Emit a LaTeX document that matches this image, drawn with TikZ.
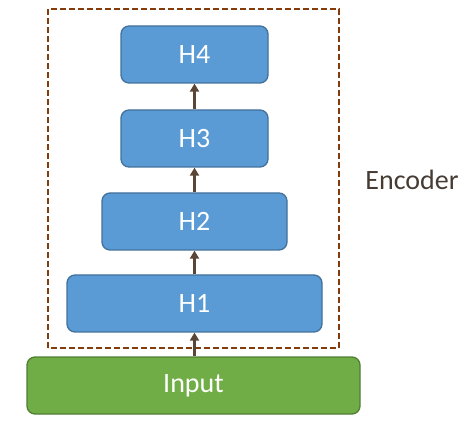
\documentclass[tikz,border=0pt]{standalone}
\usepackage{fontspec}
\setmainfont{Carlito}
\usetikzlibrary{arrows.meta}
\definecolor{layerfill}{HTML}{5B9BD5}
\definecolor{layerline}{HTML}{41719C}
\definecolor{inputfill}{HTML}{70AD47}
\definecolor{inputline}{HTML}{507E32}
\definecolor{arrowcol}{HTML}{5A4636}
\definecolor{framecol}{HTML}{843C0C}
\definecolor{enctext}{HTML}{463C34}
\begin{document}
\begin{tikzpicture}[x=1pt,y=1pt]
  \tikzstyle{layer}=[rectangle,rounded corners=8pt,draw=layerline,fill=layerfill,line width=1.3pt,minimum height=57pt,text=white,font=\fontsize{28}{32}\selectfont]
  \tikzstyle{inbox}=[layer,draw=inputline,fill=inputfill]
  \tikzstyle{link}=[draw=arrowcol,line width=2.4pt,-{Triangle[length=8pt,width=9pt]}]
  \useasboundingbox (0,0) rectangle (469,429);
  \draw [framecol,dashed,line width=1.3pt,dash pattern=on 6pt off 3pt] (48,81) rectangle (339,420);
  \node [inbox,minimum width=333pt] (input) at (193.5,43.5) {Input};
  \node [layer,minimum width=255pt] (h1) at (194.5,125.5) {H1};
  \node [layer,minimum width=185pt] (h2) at (194.5,207.5) {H2};
  \node [layer,minimum width=147pt] (h3) at (194.5,290.5) {H3};
  \node [layer,minimum width=147pt] (h4) at (194.5,374.5) {H4};
  \draw [link] (input.north -| h1.south) -- (h1.south);
  \draw [link] (h1) -- (h2);
  \draw [link] (h2) -- (h3);
  \draw [link] (h3) -- (h4);
  \node [text=enctext,font=\fontsize{28}{32}\selectfont] (enc) at (412,249) {Encoder};
\end{tikzpicture}
\end{document}
